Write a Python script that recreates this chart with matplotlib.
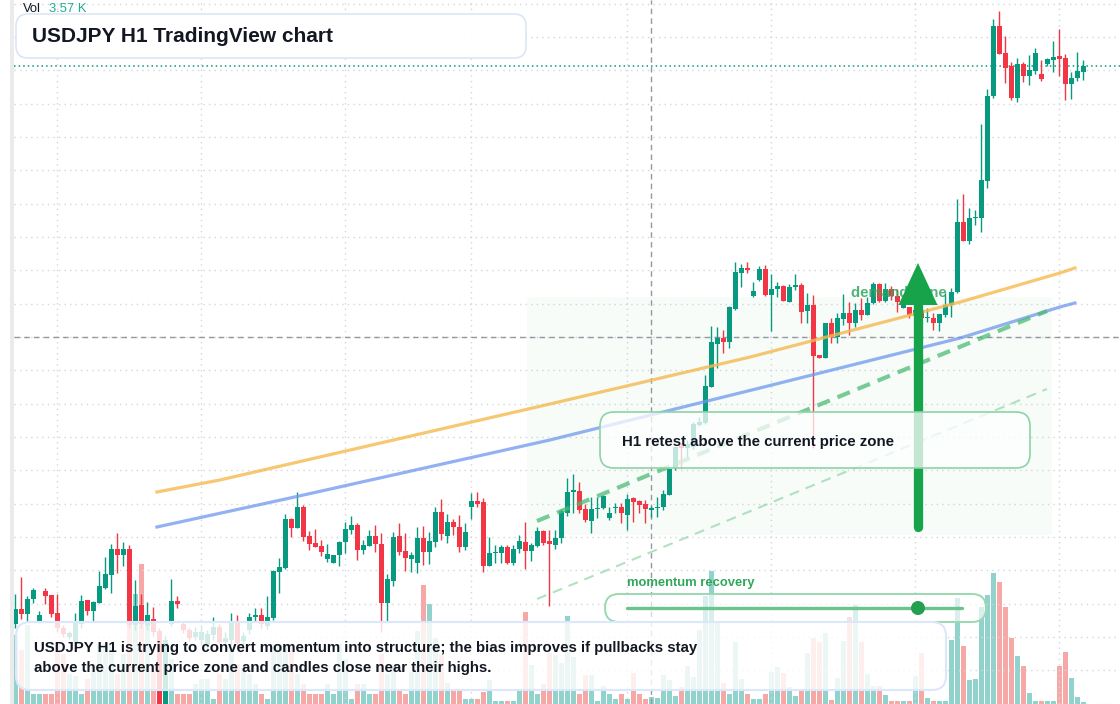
import matplotlib
matplotlib.use('Agg')
import matplotlib.pyplot as plt
from matplotlib.patches import FancyBboxPatch, Rectangle, Circle
from matplotlib.lines import Line2D
from matplotlib.ticker import MultipleLocator, FixedLocator
import numpy as np

plt.rcParams['font.family'] = ['Liberation Sans', 'DejaVu Sans']

W, H, DPI = 1120, 704, 100

# USDJPY H1 candles, oldest -> newest
opens = [
    147.13, 147.28, 147.23, 147.38, 147.16, 147.46, 147.42, 147.24, 147.09, 147.00,
    146.95, 147.13, 147.37, 147.26, 147.34, 147.49, 147.62, 147.88, 147.82, 147.88,
    147.12, 147.32, 147.11, 147.18, 147.06, 146.25, 147.13, 147.36, 147.13, 147.07,
    147.00, 146.97, 146.92, 147.02, 147.10, 146.95, 146.97, 147.15, 146.96, 147.07,
    147.20, 147.22, 147.11, 147.19, 147.65, 147.69, 148.18, 148.09, 148.30, 148.01,
    147.94, 147.91, 147.78, 147.74, 147.82, 147.95, 148.07, 148.12, 147.87, 147.91,
    148.01, 147.93, 147.34, 147.56, 148.01, 147.86, 147.78, 147.74, 147.99, 147.85,
    147.95, 148.25, 148.01, 148.15, 148.10, 147.90, 148.30, 148.36, 148.35, 147.71,
    147.84, 147.84, 147.90, 147.74, 147.88, 147.95, 147.86, 147.91, 148.06, 147.96,
    147.92, 147.99, 148.24, 148.45, 148.46, 148.28, 148.16, 148.28, 148.29, 148.19,
    148.29, 148.30, 148.22, 148.39, 148.36, 148.33, 148.27, 148.29, 148.30, 148.42,
    148.69, 148.91, 148.89, 148.90, 149.12, 149.14, 149.50, 149.93, 149.99, 149.95,
    150.28, 150.64, 150.69, 150.41, 150.57, 150.68, 150.42, 150.48, 150.51, 150.35,
    150.50, 150.52, 150.26, 150.32, 149.82, 149.79, 150.14, 150.00, 150.18, 150.24,
    150.14, 150.27, 150.22, 150.34, 150.53, 150.36, 150.48, 150.41, 150.29, 150.30,
    150.21, 150.27, 150.19, 150.19, 150.14, 150.22, 150.32, 150.45, 151.15, 150.96,
    151.19, 151.19, 151.56, 152.41, 153.11, 152.84, 152.71, 152.39, 152.73, 152.61,
    152.66, 152.63, 152.73, 152.77, 152.81, 152.79, 152.53, 152.59, 152.65,
]
highs = [
    147.43, 147.60, 147.41, 147.49, 147.26, 147.49, 147.42, 147.43, 147.12, 147.06,
    147.24, 147.42, 147.37, 147.36, 147.66, 147.80, 147.93, 148.04, 147.95, 147.92,
    147.57, 147.43, 147.35, 147.30, 147.09, 147.01, 147.58, 147.41, 147.16, 147.09,
    147.10, 147.12, 147.07, 147.20, 147.13, 147.05, 147.24, 147.22, 147.05, 147.24,
    147.29, 147.29, 147.41, 147.67, 147.79, 148.23, 148.19, 148.45, 148.32, 148.06,
    148.08, 147.97, 147.93, 147.82, 147.96, 148.15, 148.21, 148.14, 147.97, 148.07,
    148.12, 148.04, 147.63, 148.05, 148.14, 148.04, 147.85, 148.10, 148.11, 148.05,
    148.30, 148.38, 148.23, 148.18, 148.22, 148.14, 148.44, 148.45, 148.39, 148.00,
    147.92, 147.92, 147.92, 147.92, 148.02, 148.15, 147.94, 148.10, 148.07, 148.07,
    148.07, 148.28, 148.59, 148.63, 148.55, 148.33, 148.40, 148.40, 148.42, 148.30,
    148.34, 148.34, 148.43, 148.40, 148.37, 148.37, 148.31, 148.40, 148.47, 148.68,
    148.91, 148.94, 148.97, 149.15, 149.20, 149.62, 150.11, 150.10, 150.07, 150.31,
    150.75, 150.73, 150.75, 150.55, 150.71, 150.72, 150.63, 150.55, 150.52, 150.53,
    150.63, 150.54, 150.44, 150.42, 149.82, 150.14, 150.19, 150.24, 150.43, 150.35,
    150.34, 150.39, 150.40, 150.55, 150.54, 150.54, 150.51, 150.48, 150.40, 150.30,
    150.32, 150.31, 150.29, 150.24, 150.23, 150.44, 150.49, 151.38, 151.43, 151.29,
    151.27, 152.13, 152.48, 153.18, 153.26, 153.01, 152.75, 152.79, 152.75, 152.82,
    152.89, 152.77, 152.79, 152.96, 153.08, 152.83, 152.65, 152.85, 152.77,
]
lows = [
    147.09, 147.18, 147.15, 147.34, 147.14, 147.33, 147.20, 147.05, 147.00, 146.98,
    146.92, 147.09, 147.22, 147.15, 147.34, 147.48, 147.44, 147.64, 147.71, 147.09,
    147.07, 147.09, 147.07, 147.01, 146.22, 146.21, 147.11, 147.29, 147.04, 146.96,
    146.97, 146.92, 146.87, 146.97, 146.92, 146.91, 146.92, 146.91, 146.92, 147.03,
    147.15, 147.09, 147.08, 147.17, 147.44, 147.68, 148.00, 148.09, 147.96, 147.87,
    147.90, 147.81, 147.75, 147.74, 147.71, 147.84, 148.03, 147.77, 147.83, 147.91,
    147.85, 147.05, 147.15, 147.51, 147.82, 147.66, 147.65, 147.64, 147.72, 147.73,
    147.90, 147.97, 147.94, 148.02, 147.85, 147.87, 148.18, 148.30, 147.65, 147.71,
    147.74, 147.74, 147.73, 147.72, 147.84, 147.68, 147.76, 147.90, 147.92, 147.31,
    147.88, 147.94, 148.21, 148.24, 148.24, 148.15, 148.04, 148.19, 148.28, 148.17,
    148.24, 148.14, 148.07, 148.15, 148.24, 148.14, 148.20, 148.20, 148.27, 148.42,
    148.67, 148.69, 148.80, 148.88, 149.11, 149.13, 149.50, 149.69, 149.84, 149.89,
    150.27, 150.50, 150.64, 150.40, 150.56, 150.41, 150.06, 150.40, 150.36, 150.35,
    150.47, 150.14, 150.14, 148.89, 149.79, 149.79, 149.94, 149.94, 150.12, 150.02,
    150.10, 150.17, 150.22, 150.33, 150.35, 150.35, 150.37, 150.25, 150.29, 150.19,
    150.17, 150.15, 150.15, 150.07, 150.06, 150.20, 150.20, 150.44, 150.96, 150.93,
    151.12, 151.05, 151.49, 152.39, 152.83, 152.54, 152.37, 152.35, 152.55, 152.52,
    152.63, 152.56, 152.71, 152.65, 152.61, 152.37, 152.38, 152.56, 152.57,
]
closes = [
    147.28, 147.23, 147.38, 147.47, 147.22, 147.41, 147.23, 147.09, 147.03, 147.04,
    147.14, 147.36, 147.26, 147.35, 147.51, 147.63, 147.88, 147.82, 147.88, 147.12,
    147.31, 147.13, 147.22, 147.05, 146.27, 146.97, 147.36, 147.33, 147.07, 146.99,
    147.05, 147.05, 147.03, 147.10, 146.95, 146.99, 147.15, 146.94, 147.01, 147.20,
    147.22, 147.13, 147.20, 147.66, 147.70, 148.18, 148.09, 148.30, 148.00, 147.93,
    147.90, 147.85, 147.83, 147.82, 147.95, 148.08, 148.12, 147.87, 147.92, 148.01,
    147.93, 147.34, 147.58, 148.00, 147.85, 147.79, 147.82, 147.99, 147.85, 147.96,
    148.25, 148.03, 148.15, 148.10, 147.90, 148.05, 148.36, 148.33, 147.71, 147.84,
    147.85, 147.90, 147.74, 147.88, 147.96, 147.86, 147.92, 148.06, 147.94, 147.93,
    147.99, 148.26, 148.45, 148.47, 148.27, 148.17, 148.28, 148.29, 148.41, 148.24,
    148.30, 148.24, 148.38, 148.35, 148.32, 148.28, 148.29, 148.30, 148.43, 148.68,
    148.90, 148.89, 148.93, 149.13, 149.15, 149.51, 149.95, 149.99, 149.95, 150.30,
    150.65, 150.69, 150.67, 150.46, 150.68, 150.42, 150.48, 150.51, 150.36, 150.50,
    150.52, 150.25, 150.32, 149.81, 149.79, 150.14, 150.00, 150.19, 150.24, 150.14,
    150.27, 150.22, 150.34, 150.53, 150.36, 150.48, 150.41, 150.35, 150.35, 150.22,
    150.27, 150.19, 150.20, 150.14, 150.23, 150.32, 150.45, 151.15, 150.96, 151.19,
    151.20, 151.57, 152.41, 153.11, 152.83, 152.69, 152.39, 152.73, 152.61, 152.67,
    152.84, 152.58, 152.78, 152.80, 152.78, 152.53, 152.59, 152.66, 152.71,
]
# volume in thousands
volumes_k = [
    34.5, 27, 39.5, 5, 5, 5, 5, 30, 25, 15,
    14, 5, 12.5, 20, 30, 30, 30, 15, 25, 57.5,
    55, 70, 44.5, 20, 25, 30, 22.5, 5, 5, 5,
    10, 12.5, 12.5, 2.5, 15, 12.5, 27.5, 20, 17.5, 15,
    10, 5, 2.5, 30, 30, 30, 30, 15, 10, 5,
    5, 5, 10, 5, 30, 22.5, 2.5, 10, 10, 5,
    5, 25, 15, 20, 7, 5, 16, 36.5, 59.5, 50,
    33, 24.5, 10.5, 7, 7, 2.5, 2.5, 2.5, 6, 12,
    1.5, 1.5, 1.5, 1.5, 7, 46, 19.5, 5, 10, 25.5,
    24.5, 20.5, 44, 23.5, 5, 14.5, 14.5, 1.5, 9, 5,
    2.5, 5, 2.5, 15.5, 5, 2.5, 3.57, 3, 14.5, 12,
    4, 8.5, 19, 13.5, 37, 54, 66.5, 41, 10.5, 5,
    31, 12.5, 5, 2.5, 2.5, 5, 16, 18.5, 15.5, 8.5,
    4, 7.5, 25.5, 33, 31, 35.5, 2, 13, 31.5, 43.5,
    49.5, 31, 15, 9, 9, 4.5, 1.5, 1.5, 1.5, 1.5,
    14, 25.5, 3, 1.5, 1.5, 1.5, 32, 53, 29, 12,
    12.5, 48.5, 54.5, 65.5, 61, 48.5, 33, 24, 19, 5.5,
    1.5, 1.5, 1.5, 1.5, 19, 26, 13, 3.5, 1.0,
]

# session breaks (bar index) used for the vertical grid
day_breaks = [7, 31, 55, 76, 102, 126, 150, 174]
crosshair_bar = 106
crosshair_price = 150.00

# moving averages drawn on the chart (bar index, price)
ma_fast_x = [23.6, 34.1, 89.1, 122.5, 157.5, 174.1, 176.6]
ma_fast_y = [148.45, 148.57, 149.33, 149.80, 150.35, 150.64, 150.69]
ma_slow_x = [23.6, 45.8, 89.1, 124.1, 157.5, 174.1, 176.6]
ma_slow_y = [148.10, 148.39, 148.97, 149.49, 149.99, 150.30, 150.34]

# channel lines
channel_x = [86.95, 171.95]
channel_top = [148.16, 150.26]
channel_bottom = [147.38, 149.48]

# demand zone (bar range, price range) and the arrow
zone_x = [85.3, 172.8]
zone_y = [148.02, 150.40]
arrow_bar = 150.45
arrow_from, arrow_base, arrow_tip = 148.105, 150.32, 150.74

opens = np.array(opens)
highs = np.array(highs)
lows = np.array(lows)
closes = np.array(closes)
x = np.arange(len(opens))

GREEN = '#089981'
RED = '#f23645'
up = closes >= opens
colors = np.where(up, GREEN, RED)
vol_colors = np.where(up, '#26a69a80', '#ef535080')

fig = plt.figure(figsize=(W / DPI, H / DPI), dpi=DPI)
fig.patch.set_facecolor('white')
rect = [14 / W, 0, 1 - 14 / W, 1]

# volume pane (behind)
ax_vol = fig.add_axes(rect)
ax_vol.bar(x, volumes_k, width=0.82, color=vol_colors, linewidth=0)
ax_vol.set_xlim(-0.22, 184.12)
ax_vol.set_ylim(0, 352)
ax_vol.axis('off')

# price pane
ax = fig.add_axes(rect)
ax.patch.set_alpha(0)
ax.set_xlim(-0.22, 184.12)
ax.set_ylim(146.33, 153.37)
ax.yaxis.set_major_locator(MultipleLocator(1 / 3))
ax.xaxis.set_major_locator(FixedLocator(day_breaks))
ax.grid(True, color='#d3d6dc', lw=1, ls=(0, (1, 3)))
ax.set_axisbelow(True)
ax.tick_params(left=False, bottom=False, labelleft=False, labelbottom=False)
for s in ax.spines.values():
    s.set_visible(False)

ax.add_patch(Rectangle((zone_x[0], zone_y[0]), zone_x[1] - zone_x[0], zone_y[1] - zone_y[0],
                       facecolor='#22c55e', alpha=0.035, lw=0, zorder=0.6))

ax.axvline(crosshair_bar, color='#9598a1', lw=1, ls=(0, (4, 3)), zorder=1.5)
ax.axhline(crosshair_price, color='#9598a1', lw=1, ls=(0, (4, 3)), zorder=1.5)
ax.axhline(closes[-1], color=GREEN, lw=1.1, ls=(0, (1, 2)), zorder=1.5)

# candles
ax.vlines(x, lows, highs, colors=colors, lw=1, zorder=2)
body_low = np.minimum(opens, closes)
body_h = np.maximum(np.abs(closes - opens), 0.012)
ax.bar(x, body_h, bottom=body_low, width=0.82, color=colors, linewidth=0, zorder=2.1)

# moving averages and channel
ax.plot(ma_fast_x, ma_fast_y, color='#f5b94f', alpha=0.8, lw=2.3, zorder=3)
ax.plot(ma_slow_x, ma_slow_y, color='#6f97ee', alpha=0.75, lw=2.3, zorder=3)
ax.plot(channel_x, channel_top, color='#4cbb73', alpha=0.75, lw=3, dashes=(3.2, 2), zorder=3)
ax.plot(channel_x, channel_bottom, color='#8fd6a8', alpha=0.7, lw=1.5, dashes=(4.8, 3.4), zorder=3)

ax.text(139.3, 150.44, 'demand zone', color='#2fa85c', alpha=0.85, fontsize=10.8,
        fontweight='bold', va='center', ha='left', zorder=3.5)

ax.plot([arrow_bar, arrow_bar], [arrow_from, arrow_base + 0.02], color='#16a34a', lw=6.7,
        solid_capstyle='round', zorder=4)
ax.fill([arrow_bar - 3.25, arrow_bar + 3.25, arrow_bar], [arrow_base, arrow_base, arrow_tip],
        color='#16a34a', lw=0, zorder=4)


# overlay boxes in pixel coordinates (from top-left)
def box(x0, y0, x1, y1, r, fc, ec, lw, z):
    p = FancyBboxPatch((x0 / DPI, (H - y1) / DPI), (x1 - x0) / DPI, (y1 - y0) / DPI,
                       boxstyle=f'round,pad=0,rounding_size={r / DPI}',
                       transform=fig.dpi_scale_trans, facecolor=fc, edgecolor=ec,
                       linewidth=lw, zorder=z)
    fig.add_artist(p)


def label(px, py, s, **kw):
    fig.text(px / DPI, (H - py) / DPI, s, transform=fig.dpi_scale_trans, va='center', **kw)


fig.add_artist(Rectangle((10 / DPI, 0), 4 / DPI, H / DPI, transform=fig.dpi_scale_trans,
                         facecolor='#ebebeb', lw=0, zorder=1))

box(600, 412, 1030, 468, 14, (1, 1, 1, 0.75), '#8dd3a5', 1.2, 5)
label(622, 442, 'H1 retest above the current price zone', fontsize=10.8, fontweight='bold',
      color='#131722', zorder=6)

box(605, 594, 986, 622, 14, (1, 1, 1, 0.65), '#9ad9b0', 1.4, 5)
label(627, 583, 'momentum recovery', fontsize=9.4, fontweight='bold', color='#2fa85c', zorder=6)
fig.add_artist(Line2D([627 / DPI, 962 / DPI], [(H - 608) / DPI] * 2, transform=fig.dpi_scale_trans,
                      color='#6cc48c', lw=2.4, solid_capstyle='round', zorder=6))
fig.add_artist(Circle((918 / DPI, (H - 608) / DPI), 7 / DPI, transform=fig.dpi_scale_trans,
                      facecolor='#22a04f', lw=0, zorder=7))

box(16, 622, 946, 690, 14, (1, 1, 1, 0.82), '#dbe7fb', 1.5, 5)
label(34, 648, 'USDJPY H1 is trying to convert momentum into structure; the bias improves if pullbacks stay',
      fontsize=10.8, fontweight='bold', color='#131722', zorder=6)
label(34, 668, 'above the current price zone and candles close near their highs.',
      fontsize=10.8, fontweight='bold', color='#131722', zorder=6)

box(16, 14, 526, 58, 12, (1, 1, 1, 0.95), '#dce6f6', 1.2, 5)
label(32, 36, 'USDJPY H1 TradingView chart', fontsize=15, fontweight='bold', color='#131722', zorder=6)

# legend shows the volume of the bar under the crosshair
label(23, 9, 'Vol', fontsize=9.4, color='#131722', zorder=6)
label(49, 9, f'{volumes_k[crosshair_bar]:.2f} K', fontsize=9.4, color='#22ab94', zorder=6)

fig.savefig('out.png', dpi=DPI)
